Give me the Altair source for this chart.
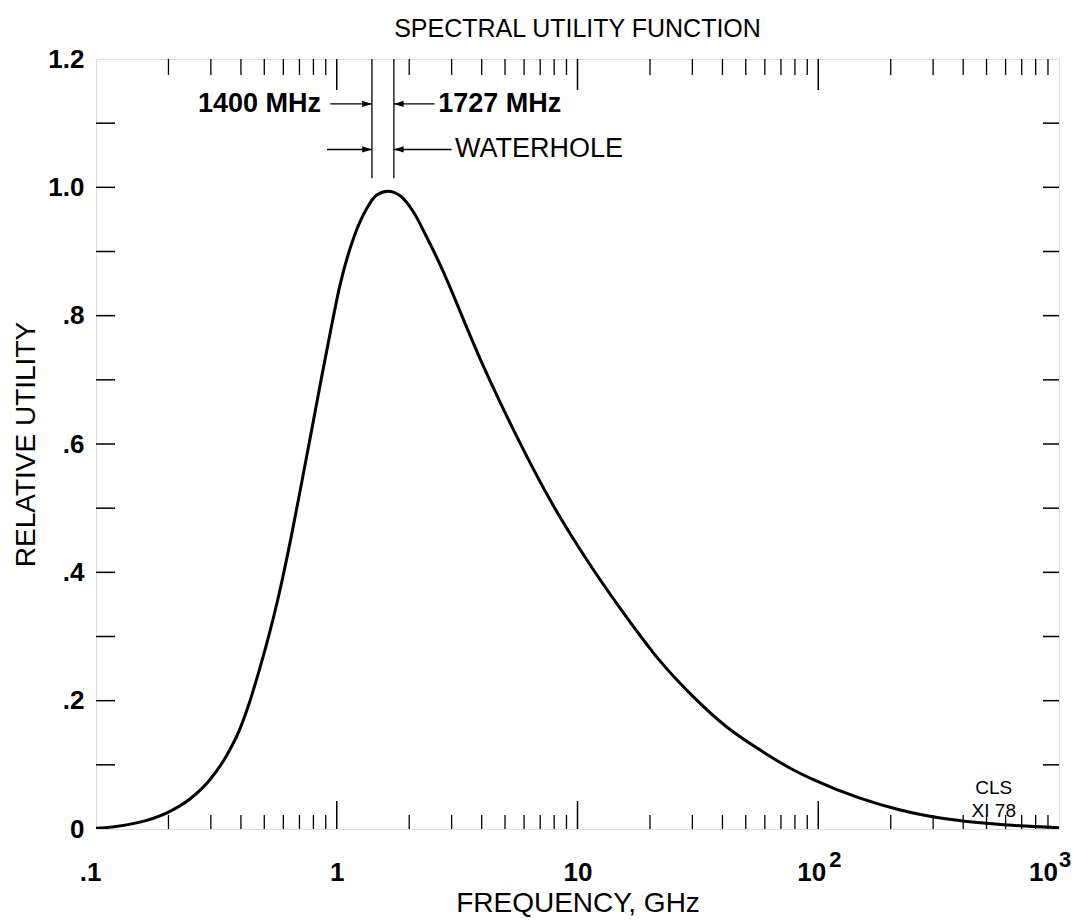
import altair as alt
import pandas as pd

# ---- curve ----
freq = [0.1, 0.121, 0.161, 0.199, 0.244, 0.296, 0.347, 0.394, 0.433, 0.477, 0.517,
        0.571, 0.649, 0.715, 0.787, 0.866, 0.938, 1.032, 1.172, 1.332, 1.466, 1.629,
        1.833, 2.08, 2.36, 2.69, 3.05, 3.35, 3.97, 4.80, 5.98, 7.96, 9.62, 11.64,
        16.0, 22.0, 30.3, 41.7, 57.4, 78.9, 95.5, 149, 217, 322, 570, 1000]
util = [0.001, 0.004, 0.013, 0.026, 0.046, 0.076, 0.113, 0.154, 0.196, 0.248, 0.295,
        0.360, 0.458, 0.540, 0.622, 0.705, 0.772, 0.848, 0.920, 0.967, 0.988, 0.994,
        0.987, 0.962, 0.923, 0.879, 0.832, 0.795, 0.730, 0.663, 0.590, 0.503, 0.452, 0.404,
        0.330, 0.262, 0.206, 0.159, 0.123, 0.092, 0.077, 0.048, 0.030, 0.017, 0.007, 0.002]

# ---- axis ticks ----
x_label_values = [0.1, 1, 10, 100, 1000]
y_label_values = [0, 0.2, 0.4, 0.6, 0.8, 1.0, 1.2]
x_minor = [0.2, 0.3, 0.4, 0.5, 0.6, 0.7, 0.8, 0.9,
           2, 3, 4, 5, 6, 7, 8, 9,
           20, 30, 40, 50, 60, 70, 80, 90,
           200, 300, 400, 500, 600, 700, 800, 900]
x_major = [1, 10, 100]
y_minor = [0.1, 0.2, 0.3, 0.4, 0.5, 0.6, 0.7, 0.8, 0.9, 1.0, 1.1]
sup_text = ["2", "3"]
sup_f = [100, 1000]

# ---- waterhole annotation ----
wh_lines = [1.4, 1.727]
wh_top = [1.2, 1.2]
wh_bottom = [1.014, 1.014]
arrow_from = [0.94, 2.55, 0.91, 3.0]
arrow_to = [1.4, 1.727, 1.4, 1.727]
arrow_row = [1.13, 1.13, 1.059, 1.059]
arrow_dir = ["right", "left", "right", "left"]
ann_text = ["1400 MHz", "1727 MHz", "WATERHOLE"]
ann_f = [0.86, 2.64, 3.1]
ann_v = [1.13, 1.13, 1.059]
ann_align = ["right", "left", "left"]
ann_weight = ["bold", "bold", "normal"]
stamp_text = ["CLS", "XI 78"]
stamp_f = [536, 536]
stamp_v = [0.064, 0.028]

W, H = 963, 770
FONT = "Liberation Sans"

x_scale = alt.Scale(type="log", domain=[0.1, 1000], nice=False)
y_scale = alt.Scale(domain=[0, 1.2], nice=False, zero=False)

x_axis = alt.Axis(
    values=x_label_values,
    labelExpr="datum.value < 0.5 ? '.1' : datum.value > 50 ? '10' : format(datum.value, 'd')",
    labelAlign="center",
    labelOffset={"condition": [
        {"test": "datum.value < 0.5", "value": -6},
        {"test": "datum.value > 500", "value": -16},
        {"test": "datum.value > 50", "value": -7}], "value": 0},
    ticks=False, domain=False, grid=False, labelFlush=False, labelOverlap=False, labelBound=False,
    labelFontSize=26, labelFontWeight="bold", labelColor="black", labelPadding=30,
    title="FREQUENCY, GHz", titleFontSize=28, titleFontWeight="normal", titleColor="black",
    titlePadding=4, labelFont=FONT, titleFont=FONT,
)
y_axis = alt.Axis(
    values=y_label_values,
    labelExpr="datum.value == 0 ? '0' : (datum.value < 0.95 ? '.' + round(datum.value * 10) : format(datum.value, '.1f'))",
    ticks=False, domain=False, grid=False, labelOverlap=False, labelFlush=False, labelBound=False,
    labelFontSize=26, labelFontWeight="bold", labelColor="black", labelPadding=12,
    title="RELATIVE UTILITY", titleFontSize=28, titleFontWeight="normal", titleColor="black",
    titlePadding=7, labelFont=FONT, titleFont=FONT,
)


def X(field):
    return alt.X(f"{field}:Q", scale=x_scale, axis=x_axis)


def Y(field):
    return alt.Y(f"{field}:Q", scale=y_scale, axis=y_axis)


curve_df = pd.DataFrame({"f": freq, "u": util})
xmin_df = pd.DataFrame({"f": x_minor})
xmaj_df = pd.DataFrame({"f": x_major})
ymin_df = pd.DataFrame({"u": y_minor})
wh_df = pd.DataFrame({"f": wh_lines, "u": wh_top, "u2": wh_bottom})
HEAD_R = "M -1 -0.32 L 0 0 L -1 0.32 Z"
HEAD_L = "M 1 -0.32 L 0 0 L 1 0.32 Z"
arr_df = pd.DataFrame({
    "f": arrow_from, "f2": arrow_to, "u": arrow_row,
    "shape": [HEAD_R if d == "right" else HEAD_L for d in arrow_dir],
})
ann_df = pd.DataFrame({"f": ann_f, "u": ann_v, "t": ann_text, "a": ann_align, "w": ann_weight})
stamp_df = pd.DataFrame({"f": stamp_f, "u": stamp_v, "t": stamp_text})
sup_df = pd.DataFrame({"f": sup_f, "u": [0, 0], "t": sup_text})

curve = alt.Chart(curve_df).mark_line(
    color="black", strokeWidth=3, interpolate="monotone", clip=True
).encode(x=X("f"), y=Y("u"))

bottom_minor = alt.Chart(xmin_df).mark_rule(color="black", strokeWidth=1.3).encode(
    x=X("f"), y=alt.value(H), y2=alt.value(H - 14))
bottom_major = alt.Chart(xmaj_df).mark_rule(color="black", strokeWidth=1.5).encode(
    x=X("f"), y=alt.value(H), y2=alt.value(H - 28))
top_minor = alt.Chart(xmin_df).mark_rule(color="black", strokeWidth=1.3).encode(
    x=X("f"), y=alt.value(0), y2=alt.value(16))
top_major = alt.Chart(xmaj_df).mark_rule(color="black", strokeWidth=1.5).encode(
    x=X("f"), y=alt.value(0), y2=alt.value(31))
left_ticks = alt.Chart(ymin_df).mark_rule(color="black", strokeWidth=1.5).encode(
    y=Y("u"), x=alt.value(0), x2=alt.value(19))
right_ticks = alt.Chart(ymin_df).mark_rule(color="black", strokeWidth=1.5).encode(
    y=Y("u"), x=alt.value(W), x2=alt.value(W - 16))

sup100 = alt.Chart(sup_df[sup_df["f"] == 100]).mark_text(
    align="left", baseline="middle", fontSize=22, fontWeight="bold", font=FONT,
    color="black", dx=11, dy=31).encode(x=X("f"), y=Y("u"), text="t:N")
sup1000 = alt.Chart(sup_df[sup_df["f"] == 1000]).mark_text(
    align="left", baseline="middle", fontSize=22, fontWeight="bold", font=FONT,
    color="black", dx=0, dy=31).encode(x=X("f"), y=Y("u"), text="t:N")

wh_rules = alt.Chart(wh_df).mark_rule(color="black", strokeWidth=1.3).encode(
    x=X("f"), y=Y("u"), y2="u2:Q")
shafts = alt.Chart(arr_df).mark_rule(color="black", strokeWidth=1.3).encode(
    x=X("f"), x2="f2:Q", y=Y("u"))
heads = alt.Chart(arr_df).mark_point(filled=True, color="black", opacity=1, size=380).encode(
    x=X("f2"), y=Y("u"), shape=alt.Shape("shape:N", scale=None, legend=None))

ann_layers = []
for align in ["right", "left"]:
    for weight in ["bold", "normal"]:
        sub = ann_df[(ann_df["a"] == align) & (ann_df["w"] == weight)]
        if len(sub) == 0:
            continue
        ann_layers.append(
            alt.Chart(sub).mark_text(
                align=align, baseline="middle", fontSize=27, fontWeight=weight,
                font=FONT, color="black"
            ).encode(x=X("f"), y=Y("u"), text="t:N")
        )

stamp = alt.Chart(stamp_df).mark_text(
    align="center", baseline="middle", fontSize=19, font=FONT, color="black"
).encode(x=X("f"), y=Y("u"), text="t:N")

chart = alt.layer(
    curve, bottom_minor, bottom_major, top_minor, top_major, left_ticks, right_ticks,
    sup100, sup1000, wh_rules, shafts, heads, *ann_layers, stamp
).properties(
    width=W, height=H,
    title=alt.TitleParams("SPECTRAL UTILITY FUNCTION", fontSize=25, fontWeight="normal",
                          font=FONT, color="black", anchor="middle", offset=4),
    autosize=alt.AutoSizeParams(type="none"),
    padding={"left": 88, "top": 51, "right": 14, "bottom": 90},
).configure_view(
    stroke="black", strokeWidth=1.6
).configure(background="white")

chart.save("out.html", embed_options={"renderer": "svg", "actions": False})
